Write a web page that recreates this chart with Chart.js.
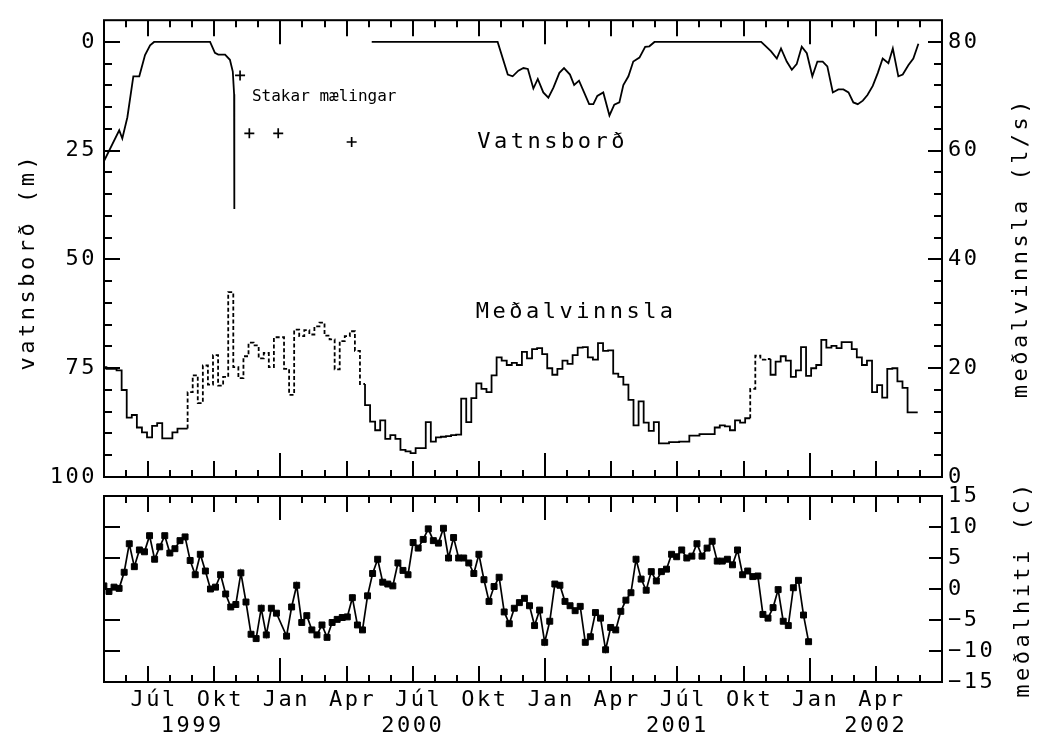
<!DOCTYPE html>
<html lang="is">
<head>
<meta charset="utf-8">
<title>Vatnsborð, meðalvinnsla og meðalhiti 1999–2002</title>
<script src="https://cdn.jsdelivr.net/npm/chart.js@4.4.1/dist/chart.umd.min.js"></script>
<style>
  html, body { margin: 0; padding: 0; background: #fff; }
  #wrap { position: relative; width: 1041px; height: 742px; }
  #wrap canvas { position: absolute; left: 0; top: 0; }
</style>
</head>
<body>
<div id="wrap">
  <canvas id="upper" width="1041" height="742"></canvas>
  <canvas id="lower" width="1041" height="742"></canvas>
</div>
<script>
// ---------------------------------------------------------------- data
// x positions are months counted from 1 Jan 1999 (Jan 2000 = 12)
const BASE_YEAR = 1999;
const monthNames = ['Jan', 'Feb', 'Mar', 'Apr', 'Maí', 'Jún', 'Júl', 'Ágú', 'Sep', 'Okt', 'Nóv', 'Des'];
const yearLabels = [1999, 2000, 2001, 2002];

const depthTicks = [0, 25, 50, 75, 100];
const flowTicks = [0, 20, 40, 60, 80];
const tempTicks = [-15, -10, -5, 0, 5, 10, 15];

// Water level in the well (m below top); null marks the break in the record
const levelMonth = [
  4.00, 4.69, 4.83, 5.06, 5.33, 5.60, 5.86, 6.09, 6.27, 8.81, 9.03, 9.18, 9.49, 9.71, 9.84, 9.90, 9.91,
  13.0,
  16.14, 21.85, 22.31, 22.53, 22.79, 23.02, 23.22, 23.47, 23.67, 23.92, 24.15, 24.38, 24.65, 24.86,
  25.13, 25.32, 25.54, 25.77, 26.00, 26.19, 26.37, 26.64, 26.92, 27.14, 27.37, 27.55, 27.78, 28.00,
  28.28, 28.54, 28.73, 28.96,
  33.80, 34.24, 34.51, 34.70, 34.96, 35.19, 35.41, 35.64, 35.87, 36.12, 36.35, 36.59, 36.80, 37.05,
  37.30, 37.53, 37.76, 37.98, 38.18, 38.41, 38.62, 38.86, 39.09, 39.31, 39.57, 39.77, 40.02, 40.22,
  40.48, 40.70, 40.93
];
const levelDepth = [
  27.4, 20.3, 22.2, 17.3, 7.9, 7.9, 3.0, 0.8, 0, 0, 2.5, 2.9, 2.9, 4.1, 6.8, 12.0, 38.4,
  null,
  0, 0, 7.5, 7.9, 6.6, 6.0, 6.2, 10.7, 8.5, 11.6, 12.8, 10.5, 7.1, 6.0,
  7.5, 9.9, 8.9, 11.6, 14.3, 14.3, 12.4, 11.6, 16.9, 14.4, 13.9, 9.9, 7.9, 4.5,
  3.6, 1.1, 1.0, 0,
  0, 2.1, 3.8, 1.5, 4.5, 6.4, 5.1, 1.1, 2.6, 7.9, 4.5, 4.5, 5.6, 11.6,
  10.9, 10.9, 11.6, 13.9, 14.3, 13.5, 12.2, 10.1, 7.1, 3.8, 4.9, 1.5, 7.9, 7.5,
  5.3, 3.8, 0.4
];

// Occasional manual readings ("Stakar mælingar")
const spotMonth = [10.17, 10.59, 11.90, 15.23];
const spotDepth = [7.7, 21.0, 21.0, 23.0];

// Weekly mean production (l/s); the first week starts on this date
const firstWeek = '1999-04-29';
const production = [
  22.0, 20.2, 19.9, 19.9, 19.6, 16.0, 10.9, 11.4, 9.1, 8.2,
  7.3, 9.4, 9.9, 7.1, 7.1, 8.2, 8.9, 8.9, 15.6, 18.7,
  13.6, 20.5, 17.0, 22.4, 16.8, 18.4, 34.0, 20.2, 18.2, 22.2,
  24.7, 24.2, 21.8, 22.8, 20.2, 25.7, 25.7, 19.9, 15.1, 27.1,
  25.9, 27.0, 26.2, 27.7, 28.4, 26.0, 25.3, 19.8, 25.0, 25.9,
  26.8, 23.2, 17.1, 13.2, 10.2, 8.6, 10.4, 7.0, 7.7, 7.0,
  5.0, 4.7, 4.4, 5.3, 5.3, 10.1, 6.5, 7.3, 7.4, 7.5,
  7.7, 7.8, 14.4, 10.1, 14.5, 17.2, 16.2, 15.6, 18.7, 22.0,
  21.4, 20.6, 21.0, 20.6, 23.0, 21.8, 23.5, 23.7, 22.6, 20.0,
  18.8, 19.9, 21.4, 20.8, 22.4, 23.8, 23.9, 22.0, 21.6, 24.6,
  23.2, 23.3, 19.0, 18.4, 17.0, 14.2, 9.5, 13.9, 10.0, 8.5,
  10.1, 6.2, 6.2, 6.4, 6.4, 6.5, 6.5, 7.6, 7.6, 7.9,
  7.9, 7.9, 9.1, 9.5, 9.3, 8.6, 10.4, 10.0, 10.8, 16.2,
  22.3, 21.6, 21.7, 18.8, 21.2, 22.2, 21.4, 18.4, 19.6, 23.9,
  18.6, 20.0, 20.6, 25.2, 23.8, 24.1, 23.7, 24.8, 24.8, 23.5,
  22.0, 20.6, 21.4, 15.6, 16.9, 14.6, 19.9, 20.0, 17.6, 16.4,
  11.9
];
// weeks where production is estimated (drawn dashed), inclusive
const estimatedWeeks = [[18, 51], [129, 131]];

// Weekly mean air temperature (°C), plotted mid-week; null = no value
const temperature = [
  0.5, -0.4, 0.3, 0.1, 2.7, 7.3, 3.6, 6.3, 6.0, 8.6,
  4.8, 6.8, 8.6, 5.8, 6.5, 7.8, 8.4, 4.6, 2.3, 5.6,
  2.9, 0.0, 0.3, 2.3, -0.8, -2.9, -2.5, 2.6, -2.1, -7.3,
  -8.0, -3.1, -7.4, -3.1, -3.9, null, -7.6, -2.9, 0.6, -5.4,
  -4.3, -6.6, -7.4, -5.8, -7.8, -5.4, -4.9, -4.6, -4.5, -1.4,
  -5.8, -6.6, -1.1, 2.5, 4.8, 1.1, 0.8, 0.5, 4.2, 3.0,
  2.3, 7.5, 6.6, 8.0, 9.7, 7.8, 7.4, 9.8, 5.0, 8.3,
  5.0, 5.0, 4.2, 2.5, 5.6, 1.5, -2.0, 0.4, 1.9, -3.7,
  -5.6, -3.1, -2.2, -1.5, -2.7, -5.9, -3.4, -8.6, -5.2, 0.8,
  0.6, -2.0, -2.7, -3.5, -2.8, -8.6, -7.7, -3.8, -4.7, -9.8,
  -6.2, -6.6, -3.6, -1.8, -0.6, 4.8, 1.6, -0.2, 2.8, 1.3,
  2.8, 3.2, 5.6, 5.2, 6.3, 5.0, 5.3, 7.3, 5.3, 6.6,
  7.7, 4.5, 4.5, 4.8, 3.9, 6.3, 2.3, 2.9, 2.0, 2.1,
  -4.1, -4.7, -3.0, -0.1, -5.2, -5.9, 0.2, 1.4, -4.2, -8.5
];

// ---------------------------------------------------------------- helpers
const MONO = "'DejaVu Sans Mono', 'Liberation Mono', monospace";
const INK = '#000';
const X_MIN = 4, X_MAX = 42;          // May 1999 .. July 2002
const WEEK = 7 * 864e5;

// fractional month of a timestamp, with each year divided evenly into 12
function monthPos(t) {
  const y = new Date(t).getUTCFullYear();
  const s = Date.UTC(y, 0, 1), e = Date.UTC(y + 1, 0, 1);
  return 12 * (y - BASE_YEAR) + 12 * (t - s) / (e - s);
}
const t0 = Date.parse(firstWeek);

const levelPoints = levelMonth.map((m, i) => ({ x: m, y: levelDepth[i] }));
const spotPoints = spotMonth.map((m, i) => ({ x: m, y: spotDepth[i] }));
const productionPoints = production.map((v, i) => ({ x: monthPos(t0 + i * WEEK), y: v }));
productionPoints.push({ x: monthPos(t0 + production.length * WEEK), y: production[production.length - 1] });
const temperaturePoints = temperature.map((v, i) => ({ x: monthPos(t0 + (i + 0.5) * WEEK), y: v }));

// a step segment is dashed when it lies in, or rises into, an estimated stretch
function isEstimated(seg) {
  return estimatedWeeks.some(([a, b]) => seg >= a - 1 && seg <= b);
}

const quarterMonths = [];
for (let m = Math.ceil(X_MIN); m < X_MAX; m++) if (m % 3 === 0) quarterMonths.push(m);

// ---------------------------------------------------------------- plugins
const textStyle = {
  id: 'textStyle',
  beforeDraw(chart) { chart.ctx.letterSpacing = '2.5px'; }
};

// frame with inward tick marks on all four sides
const frameTicks = {
  id: 'frameTicks',
  afterDraw(chart, args, opts) {
    const { ctx, chartArea: a, scales } = chart;
    ctx.save();
    ctx.strokeStyle = INK;
    ctx.lineWidth = 2;
    ctx.beginPath();
    const x = scales.x;
    for (let m = Math.ceil(x.min); m < x.max; m++) {
      if (m <= x.min) continue;
      const px = Math.round(x.getPixelForValue(m));
      const len = m % 12 === 0 ? 24 : (m % 3 === 0 ? 16 : 7);
      ctx.moveTo(px, a.top); ctx.lineTo(px, a.top + len);
      ctx.moveTo(px, a.bottom); ctx.lineTo(px, a.bottom - len);
    }
    for (const spec of opts.yTicks) {
      const s = scales[spec.axis];
      const edge = spec.side === 'left' ? a.left : a.right;
      const dir = spec.side === 'left' ? 1 : -1;
      for (let v = spec.from; v <= spec.to + 1e-9; v += spec.step) {
        const py = Math.round(s.getPixelForValue(v));
        const len = Math.abs(v % spec.major) < 1e-9 ? spec.long : spec.short;
        ctx.moveTo(edge, py); ctx.lineTo(edge + dir * len, py);
      }
    }
    ctx.stroke();
    ctx.strokeRect(a.left, a.top, a.right - a.left, a.bottom - a.top);
    ctx.restore();
  }
};

// in-plot notes, rotated axis titles and the year row
const labels = {
  id: 'labels',
  afterDraw(chart, args, opts) {
    const { ctx, chartArea: a, scales } = chart;
    ctx.save();
    ctx.fillStyle = INK;
    for (const n of opts.notes || []) {
      ctx.font = n.size + 'px ' + MONO;
      ctx.letterSpacing = n.spacing + 'px';
      ctx.textAlign = n.align;
      ctx.textBaseline = 'alphabetic';
      ctx.fillText(n.text, scales.x.getPixelForValue(n.x), scales[n.axis].getPixelForValue(n.y));
    }
    for (const t of opts.titles || []) {
      ctx.save();
      const cx = t.side === 'left' ? a.left - t.offset : a.right + t.offset;
      ctx.translate(cx, (a.top + a.bottom) / 2 + (t.shift || 0));
      ctx.rotate(-Math.PI / 2);
      ctx.font = '22px ' + MONO;
      ctx.letterSpacing = '3.5px';
      ctx.textAlign = 'center';
      ctx.textBaseline = 'middle';
      ctx.fillText(t.text, 0, 0);
      ctx.restore();
    }
    if (opts.years) {
      const x = scales.x;
      ctx.font = '22px ' + MONO;
      ctx.letterSpacing = '2.5px';
      ctx.textAlign = 'center';
      ctx.textBaseline = 'middle';
      for (const yr of yearLabels) {
        const s = Math.max(x.min, 12 * (yr - BASE_YEAR));
        const e = Math.min(x.max, 12 * (yr - BASE_YEAR + 1));
        if (e <= s) continue;
        ctx.fillText(String(yr), x.getPixelForValue((s + e) / 2), a.bottom + opts.yearGap);
      }
    }
    ctx.restore();
  }
};

const tickFont = { family: MONO, size: 22 };
const hiddenGrid = { display: false, drawTicks: false };

// ---------------------------------------------------------------- upper panel
new Chart(document.getElementById('upper'), {
  type: 'line',
  data: {
    datasets: [
      {
        label: 'Vatnsborð',
        data: levelPoints,
        yAxisID: 'yL',
        borderColor: INK,
        borderWidth: 1.8,
        pointRadius: 0,
        spanGaps: false,
        tension: 0
      },
      {
        label: 'Stakar mælingar',
        data: spotPoints,
        yAxisID: 'yL',
        showLine: false,
        pointStyle: 'cross',
        pointRadius: 5,
        pointBorderWidth: 1.7,
        borderColor: INK
      },
      {
        label: 'Meðalvinnsla',
        data: productionPoints,
        yAxisID: 'yR',
        stepped: 'after',
        borderColor: INK,
        borderWidth: 1.8,
        pointRadius: 0,
        segment: { borderDash: ctx => isEstimated(ctx.p0DataIndex) ? [4, 2.5] : undefined }
      }
    ]
  },
  options: {
    responsive: false,
    animation: false,
    events: [],
    layout: { padding: { top: 11, bottom: 265, left: 0, right: 0 } },
    plugins: {
      legend: { display: false },
      tooltip: { enabled: false },
      frameTicks: {
        yTicks: [
          { axis: 'yL', side: 'left', from: 0, to: 95, step: 5, major: 25, long: 16, short: 8 },
          { axis: 'yR', side: 'right', from: 4, to: 80, step: 4, major: 20, long: 14, short: 8 }
        ]
      },
      labels: {
        notes: [
          { text: 'Stakar mælingar', axis: 'yL', x: 10.71, y: 13.5, align: 'left', size: 16, spacing: 0 },
          { text: 'Vatnsborð', axis: 'yL', x: 24.34, y: 24.4, align: 'center', size: 22, spacing: 3.5 },
          { text: 'Meðalvinnsla', axis: 'yR', x: 25.41, y: 29.2, align: 'center', size: 22, spacing: 3.5 }
        ],
        titles: [
          { text: 'vatnsborð (m)', side: 'left', offset: 76, shift: 13 },
          { text: 'meðalvinnsla (l/s)', side: 'right', offset: 79, shift: -1 }
        ]
      }
    },
    scales: {
      x: { type: 'linear', min: X_MIN, max: X_MAX, display: false },
      yL: {
        type: 'linear', position: 'left', reverse: true, min: -5, max: 100,
        grid: hiddenGrid, border: { display: false },
        ticks: { font: tickFont, color: INK, padding: 7 },
        afterBuildTicks: s => { s.ticks = depthTicks.map(v => ({ value: v })); },
        afterFit: s => { s.width = 104; }
      },
      yR: {
        type: 'linear', position: 'right', min: 0, max: 84,
        grid: hiddenGrid, border: { display: false },
        ticks: { font: tickFont, color: INK, padding: 6 },
        afterBuildTicks: s => { s.ticks = flowTicks.map(v => ({ value: v })); },
        afterFit: s => { s.width = 99; }
      }
    }
  },
  plugins: [textStyle, frameTicks, labels]
});

// ---------------------------------------------------------------- lower panel
new Chart(document.getElementById('lower'), {
  type: 'line',
  data: {
    datasets: [{
      label: 'Meðalhiti',
      data: temperaturePoints,
      yAxisID: 'yT',
      borderColor: INK,
      borderWidth: 1.7,
      pointStyle: 'rect',
      pointRadius: 4.2,
      pointBackgroundColor: INK,
      pointBorderColor: INK,
      pointBorderWidth: 1,
      spanGaps: true,
      tension: 0
    }]
  },
  options: {
    responsive: false,
    animation: false,
    events: [],
    layout: { padding: { top: 496, bottom: 0, left: 104, right: 0 } },
    plugins: {
      legend: { display: false },
      tooltip: { enabled: false },
      frameTicks: {
        yTicks: [
          { axis: 'yT', side: 'left', from: -10, to: 10, step: 5, major: 5, long: 16, short: 16 },
          { axis: 'yT', side: 'right', from: -10, to: 10, step: 5, major: 5, long: 13, short: 13 }
        ]
      },
      labels: {
        titles: [{ text: 'meðalhiti (C)', side: 'right', offset: 81, shift: 0 }],
        years: true,
        yearGap: 44
      }
    },
    scales: {
      x: {
        type: 'linear', min: X_MIN, max: X_MAX, position: 'bottom',
        grid: hiddenGrid, border: { display: false },
        ticks: {
          font: tickFont, color: INK, padding: 5, labelOffset: 6,
          autoSkip: false, maxRotation: 0,
          callback: v => monthNames[((v % 12) + 12) % 12]
        },
        afterBuildTicks: s => { s.ticks = quarterMonths.map(v => ({ value: v })); },
        afterFit: s => { s.height = 60; }
      },
      yT: {
        type: 'linear', position: 'right', min: -15, max: 15,
        grid: hiddenGrid, border: { display: false },
        ticks: {
          font: tickFont, color: INK, padding: 6,
          callback: v => v < 0 ? '−' + Math.abs(v) : String(v)
        },
        afterBuildTicks: s => { s.ticks = tempTicks.map(v => ({ value: v })); },
        afterFit: s => { s.width = 99; }
      }
    }
  },
  plugins: [textStyle, frameTicks, labels]
});
</script>
</body>
</html>
